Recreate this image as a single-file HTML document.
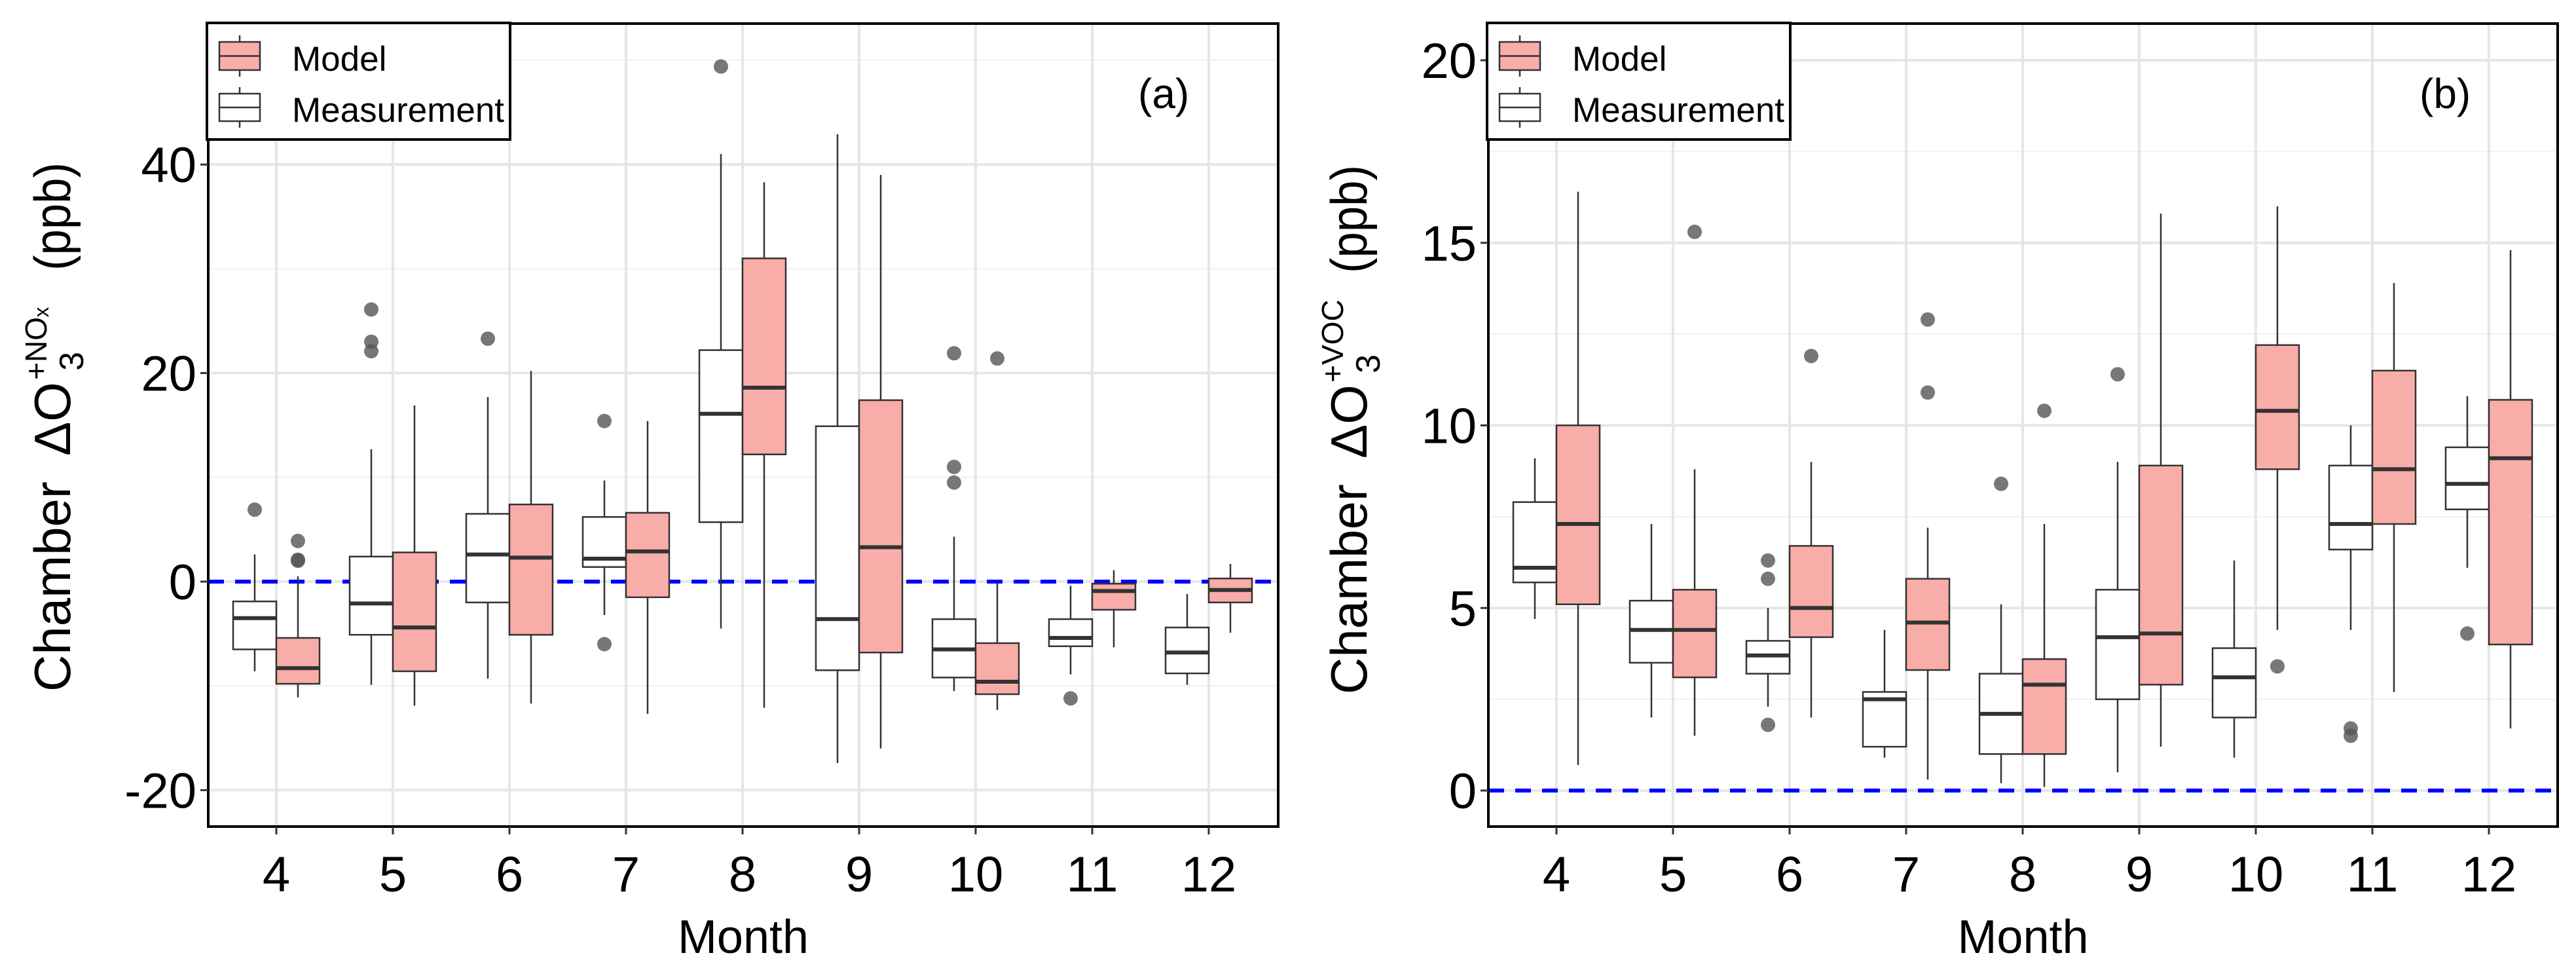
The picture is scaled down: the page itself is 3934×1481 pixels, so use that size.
<!DOCTYPE html>
<html><head><meta charset="utf-8"><style>
html,body{margin:0;padding:0;background:#fff;}
svg{display:block;font-family:"Liberation Sans",Arial,sans-serif;}
</style></head><body>
<svg id="chart" width="3934" height="1481" viewBox="0 0 3934 1481" xmlns="http://www.w3.org/2000/svg"></svg>
<script>
// ---- data ----
const months = [4,5,6,7,8,9,10,11,12];
// panel a: [low, q1, median, q3, high]
const aMeas = [[-8.6,-6.5,-3.5,-1.9,2.6],[-9.9,-5.1,-2.1,2.4,12.7],[-9.3,-2,2.6,6.5,17.7],[-3.2,1.4,2.2,6.2,9.7],[-4.5,5.7,16.1,22.2,41],[-17.4,-8.5,-3.6,14.9,42.9],[-10.5,-9.2,-6.5,-3.6,4.3],[-8.9,-6.2,-5.4,-3.6,-0.4],[-9.9,-8.8,-6.8,-4.4,-1.2]];
const aModel = [[-11.1,-9.8,-8.3,-5.4,0.5],[-11.9,-8.6,-4.4,2.8,16.9],[-11.7,-5.1,2.3,7.4,20.2],[-12.7,-1.5,2.9,6.6,15.4],[-12.1,12.2,18.6,31,38.3],[-16,-6.8,3.3,17.4,39],[-12.3,-10.8,-9.6,-5.9,-0.2],[-6.3,-2.7,-0.9,-0.2,1.1],[-4.9,-2,-0.8,0.3,1.7]];
const aMeasOut = [[6.9],[26.1,23,22.1],[23.3],[15.4,-6],[49.4],[],[21.9,11,9.5],[-11.2],[]];
const aModelOut = [[3.9,2.1,2.0],[],[],[],[],[],[21.4],[],[]];
const aTicks = [-20,0,20,40];
const aMinor = [-10,10,30,50];
// panel b
const bMeas = [[4.7,5.7,6.1,7.9,9.1],[2,3.5,4.4,5.2,7.3],[2.3,3.2,3.7,4.1,5],[0.9,1.2,2.5,2.7,4.4],[0.2,1,2.1,3.2,5.1],[0.5,2.5,4.2,5.5,9],[0.9,2,3.1,3.9,6.3],[4.4,6.6,7.3,8.9,10],[6.1,7.7,8.4,9.4,10.8]];
const bModel = [[0.7,5.1,7.3,10,16.4],[1.5,3.1,4.4,5.5,8.8],[2,4.2,5,6.7,9],[0.3,3.3,4.6,5.8,7.2],[0.1,1,2.9,3.6,7.3],[1.2,2.9,4.3,8.9,15.8],[4.4,8.8,10.4,12.2,16],[2.7,7.3,8.8,11.5,13.9],[1.7,4,9.1,10.7,14.8]];
const bMeasOut = [[],[],[6.3,5.8,1.8],[],[8.4],[11.4],[],[1.7,1.5],[4.3]];
const bModelOut = [[],[15.3],[11.9],[12.9,10.9],[10.4],[],[3.4],[],[]];
const bTicks = [0,5,10,15,20];
const bMinor = [2.5,7.5,12.5,17.5];

const NS = "http://www.w3.org/2000/svg";
const svg = document.getElementById('chart');
function mk(tag, attrs, parent){
  const e = document.createElementNS(NS, tag);
  for (const k in attrs) e.setAttribute(k, attrs[k]);
  (parent||svg).appendChild(e);
  return e;
}

function panel(cfg){
  const g = mk('g', {});
  
  
  const L=cfg.left, R=cfg.right, T=36, B=1262;
  const y = v => cfg.y0 - v*cfg.k;
  const x = i => cfg.x4 + i*178;
  cfg.minor.forEach(v=>{ if (y(v)>T && y(v)<B){ const l=mk('line',{x1:L,x2:R,y1:y(v),y2:y(v),stroke:'#f0f0f0','stroke-width':2},g);   }});
  cfg.ticks.forEach(v=>{ const l=mk('line',{x1:L,x2:R,y1:y(v),y2:y(v),stroke:'#e6e6e6','stroke-width':4},g);   });
  months.forEach((m,i)=>{ const l=mk('line',{x1:x(i),x2:x(i),y1:T,y2:B,stroke:'#e6e6e6','stroke-width':4},g);   });
  const z = mk('line',{x1:L,x2:R,y1:y(0),y2:y(0),stroke:'#0000ff','stroke-width':6,'stroke-dasharray':'24 17'},g);
  
  
  function box(st, xc, fill, label){
    const bg = mk('g',{},g);
    
    
    mk('line',{x1:xc,x2:xc,y1:y(st[4]),y2:y(st[3]),stroke:'#333','stroke-width':2.5},bg);
    mk('line',{x1:xc,x2:xc,y1:y(st[1]),y2:y(st[0]),stroke:'#333','stroke-width':2.5},bg);
    mk('rect',{x:xc-33,y:y(st[3]),width:66,height:Math.max(1,y(st[1])-y(st[3])),fill:fill,stroke:'#333','stroke-width':2.5},bg);
    mk('line',{x1:xc-33,x2:xc+33,y1:y(st[2]),y2:y(st[2]),stroke:'#333','stroke-width':6},bg);
  }
  function outs(arr, xc, label){
    arr.forEach(v=>{
      const c = mk('circle',{cx:xc,cy:y(v),r:11,fill:'#555','fill-opacity':0.8},g);
      
      
    });
  }
  months.forEach((m,i)=>{
    box(cfg.meas[i], x(i)-33, '#ffffff', 'measurement-box-month-'+m);
    box(cfg.model[i], x(i)+33, '#F9ADA8', 'model-box-month-'+m);
    outs(cfg.measOut[i], x(i)-33, 'measurement-outlier');
    outs(cfg.modelOut[i], x(i)+33, 'model-outlier');
  });
  const bd = mk('rect',{x:L,y:T,width:R-L,height:B-T,fill:'none',stroke:'#000','stroke-width':4},g);
  
  
  cfg.ticks.forEach(v=>{
    mk('line',{x1:L-12,x2:L,y1:y(v),y2:y(v),stroke:'#333','stroke-width':3},g);
    const t = mk('text',{x:L-18,y:y(v)+27,'text-anchor':'end','font-size':76,fill:'#000'},g);
    t.textContent = v;
    
    
  });
  months.forEach((m,i)=>{
    mk('line',{x1:x(i),x2:x(i),y1:B,y2:B+12,stroke:'#333','stroke-width':3},g);
    const t = mk('text',{x:x(i),y:1361,'text-anchor':'middle','font-size':76,fill:'#000'},g);
    t.textContent = m;
    
    
  });
  const xt = mk('text',{x:(L+R)/2,y:1455,'text-anchor':'middle','font-size':72,fill:'#000'},g);
  xt.textContent = 'Month';
  
  
  // y title (rotated group; x' = -y)
  const yt = mk('g',{transform:`translate(${cfg.ytx},${cfg.yoff}) rotate(-90)`,fill:'#000'},g);
  
  
  const p1 = mk('text',{x:-1056,y:0,'font-size':78},yt); p1.textContent='Chamber';
  const p2 = mk('text',{x:-696,y:0,'font-size':78},yt); p2.textContent='\u0394O';
  const p3 = mk('text',{x:-566,y:20,'font-size':52},yt); p3.textContent='3';
  const p4 = mk('text',{x:-580,y:-36,'font-size':46},yt); p4.textContent=cfg.sup;
  const p5 = mk('text',{x:-413,y:0,'font-size':78,textLength:165,lengthAdjust:'spacingAndGlyphs'},yt); p5.textContent='(ppb)';
  const pl = mk('text',{x:cfg.lblx,y:165,'font-size':64,fill:'#000'},g);
  pl.textContent = cfg.lbl;
  
  
  const lg = mk('g',{},g);
  
  
  const lx = L-2;
  mk('rect',{x:lx,y:35,width:463,height:178,fill:'#fff',stroke:'#000','stroke-width':4},lg);
  [[64,107,'#F9ADA8','Model','legend-entry-model'],[143,185,'#fff','Measurement','legend-entry-measurement']].forEach(e=>{
    const eg = mk('g',{},lg);
    
    
    const kx = lx+50;
    mk('line',{x1:kx,x2:kx,y1:e[0]-10,y2:e[1]+10,stroke:'#333','stroke-width':2.5},eg);
    mk('rect',{x:kx-31,y:e[0],width:62,height:e[1]-e[0],fill:e[2],stroke:'#333','stroke-width':2.5},eg);
    mk('line',{x1:kx-31,x2:kx+31,y1:(e[0]+e[1])/2,y2:(e[0]+e[1])/2,stroke:'#333','stroke-width':2.5},eg);
    const t = mk('text',{x:lx+130,y:e[1]+1,'font-size':53,fill:'#000'},eg);
    t.textContent = e[3];
  });
}

panel({name:'panel-a-nox',left:318,right:1952,y0:888,k:15.92,x4:422,ticks:aTicks,minor:aMinor,
  meas:aMeas,model:aModel,measOut:aMeasOut,modelOut:aModelOut,ytx:107,yoff:0,sup:'+NO\u2093',lbl:'(a)',lblx:1738});
panel({name:'panel-b-voc',left:2273,right:3906,y0:1207,k:55.75,x4:2377,ticks:bTicks,minor:bMinor,
  meas:bMeas,model:bModel,measOut:bMeasOut,modelOut:bModelOut,ytx:2087,yoff:4,sup:'+VOC',lbl:'(b)',lblx:3695});
</script>
</body></html>
